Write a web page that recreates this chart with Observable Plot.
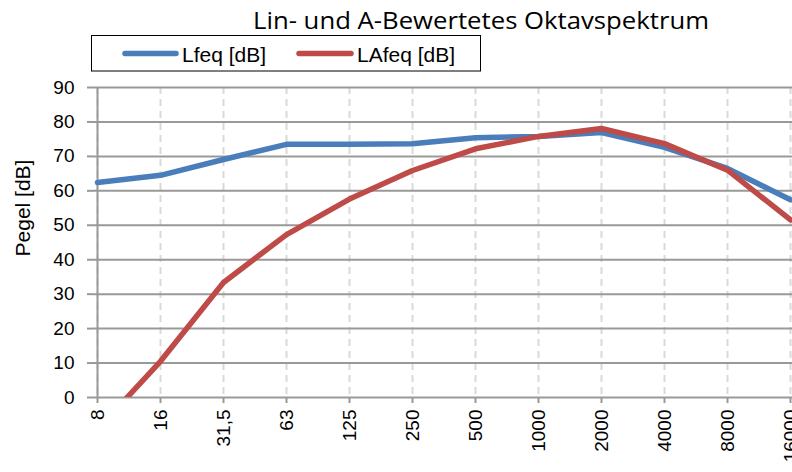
<!DOCTYPE html>
<html>
<head>
<meta charset="utf-8">
<script src="https://cdn.jsdelivr.net/npm/d3@7"></script>
<script src="https://cdn.jsdelivr.net/npm/@observablehq/plot@0.6"></script>
<style>
  html, body { margin: 0; padding: 0; background: #fff; overflow: hidden; }
  #wrap { position: relative; width: 792px; height: 472px; overflow: hidden; }
  #chart { position: absolute; left: 0; top: 0; width: 830px; }
  #chart svg { max-width: none !important; }
  #overlay { position: absolute; left: 0; top: 0; }
</style>
</head>
<body>
<div id="wrap">
  <div id="chart"></div>
  <svg id="overlay" width="792" height="472">
    <text x="481" y="29" text-anchor="middle" textLength="456" lengthAdjust="spacingAndGlyphs"
          font-family="Open Sans" font-size="23" fill="#000">Lin- und A-Bewertetes Oktavspektrum</text>
    <rect x="91.5" y="35.5" width="389" height="35.5" fill="#fff" stroke="#000" stroke-width="1"/>
    <line x1="125" y1="53.5" x2="176" y2="53.5" stroke="#4a7ebb" stroke-width="5.5" stroke-linecap="round"/>
    <text x="182" y="61.5" font-family="Liberation Sans" font-size="21" fill="#000">Lfeq [dB]</text>
    <line x1="299" y1="53.5" x2="351" y2="53.5" stroke="#be4b48" stroke-width="5.5" stroke-linecap="round"/>
    <text x="357" y="61.5" font-family="Liberation Sans" font-size="21" fill="#000">LAfeq [dB]</text>
    <text transform="translate(30,208) rotate(-90)" text-anchor="middle" font-family="Liberation Sans" font-size="21" fill="#000">Pegel [dB]</text>
  </svg>
</div>
<script>
const categories = ["8", "16", "31,5", "63", "125", "250", "500", "1000", "2000", "4000", "8000", "16000"];
const lfeq  = [62.4, 64.5, 69.1, 73.5, 73.5, 73.7, 75.4, 75.8, 76.9, 72.6, 66.5, 57.4];
const lafeq = [-9.3, 10.5, 33.4, 47.3, 57.6, 65.9, 72.2, 75.8, 78.1, 73.7, 66.0, 51.6];
const yTicks = [0, 10, 20, 30, 40, 50, 60, 70, 80, 90];

const series = [
  {name: "Lfeq [dB]", values: lfeq, color: "#4a7ebb"},
  {name: "LAfeq [dB]", values: lafeq, color: "#be4b48"}
];
const data = series.flatMap(s => categories.map((c, i) => ({cat: c, value: s.values[i], name: s.name})));

const W = 830;
const chart = Plot.plot({
  width: W,
  height: 472,
  marginLeft: 93,
  marginRight: W - 794,
  marginTop: 87,
  marginBottom: 75,
  style: {fontFamily: "Liberation Sans", fontSize: "19px", color: "#000", background: "transparent", maxWidth: "none"},
  x: {type: "point", domain: categories, padding: 0},
  y: {domain: [0, 90]},
  color: {domain: series.map(s => s.name), range: series.map(s => s.color)},
  marks: [
    Plot.gridX(categories, {stroke: "#d9d9d9", strokeOpacity: 1, strokeWidth: 2, strokeDasharray: "7,5"}),
    Plot.gridY(yTicks, {stroke: "#999999", strokeOpacity: 1, strokeWidth: 2}),
    Plot.ruleX([categories[0]], {stroke: "#999999", strokeWidth: 2}),
    Plot.axisY({ticks: yTicks, tickSize: 6, tickPadding: 13, stroke: "#999999", strokeWidth: 2, fill: "#000", label: null}),
    Plot.axisX({tickSize: 6, tickPadding: 6, tickRotate: -90, stroke: "#999999", strokeWidth: 2, fill: "#000", label: null}),
    Plot.line(data, {x: "cat", y: "value", z: "name", stroke: "name", strokeWidth: 5.5, clip: true})
  ]
});
document.getElementById("chart").appendChild(chart);
</script>
</body>
</html>
